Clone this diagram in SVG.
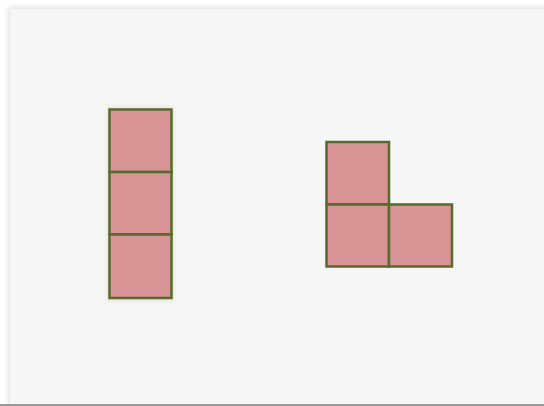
<svg xmlns="http://www.w3.org/2000/svg" width="544" height="406" viewBox="0 0 544 406">
<defs>
<filter id="sh" x="-10%" y="-10%" width="120%" height="120%">
<feGaussianBlur stdDeviation="3"/>
</filter>
<filter id="glow" x="-20%" y="-20%" width="140%" height="140%">
<feGaussianBlur stdDeviation="1.5"/>
</filter>
<style>
.sq{fill:#d99595;stroke:#566b2c;stroke-width:2.5}
</style>
</defs>
<rect x="0" y="0" width="544" height="406" fill="#ffffff"/>
<rect x="9" y="8" width="545" height="410" fill="#d8d8d8" filter="url(#sh)"/>
<rect x="10" y="9" width="540" height="400" fill="#f6f6f6"/>
<rect x="0" y="404" width="544" height="2" fill="#9a9a9a"/>
<g id="column">
<rect x="106.5" y="106.5" width="68" height="195" fill="#e6eadf" filter="url(#glow)"/>
<rect class="sq" x="109.5" y="109.5" width="62" height="62.5"/>
<rect class="sq" x="109.5" y="172" width="62" height="62.5"/>
<rect class="sq" x="109.5" y="234.5" width="62" height="63.5"/>
</g>
<g id="lshape">
<rect class="sq" x="326.5" y="142" width="62.5" height="62.5"/>
<rect class="sq" x="326.5" y="204.5" width="62.5" height="62"/>
<rect class="sq" x="389" y="204.5" width="63" height="62"/>
</g>
</svg>
